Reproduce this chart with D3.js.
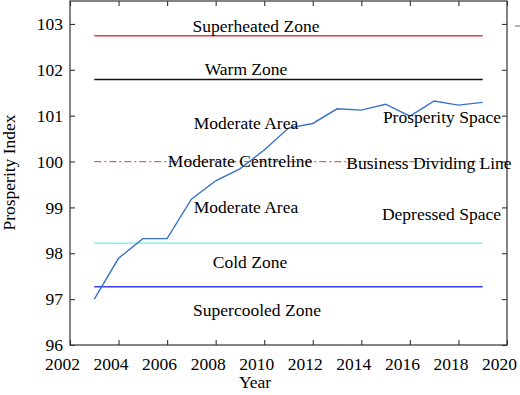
<!DOCTYPE html>
<html>
<head>
<meta charset="utf-8">
<script src="https://cdn.jsdelivr.net/npm/d3@7"></script>
<style>
  html, body { margin: 0; padding: 0; background: #fff; }
  svg { display: block; }
  text { font-family: "Liberation Serif", "Times New Roman", serif; fill: #000; }
</style>
</head>
<body>
<svg id="chart" width="520" height="395"></svg>
<script>
// ---- data ----
const years = [2003, 2004, 2005, 2006, 2007, 2008, 2009, 2010, 2011, 2012, 2013, 2014, 2015, 2016, 2017, 2018, 2019];
const index = [97.0, 97.89, 98.32, 98.32, 99.18, 99.58, 99.84, 100.25, 100.73, 100.83, 101.15, 101.12, 101.25, 100.99, 101.32, 101.23, 101.29];

const refNames = ["Superheated", "Warm", "Centreline", "Cold", "Supercooled"];
const refValues = [102.74, 101.79, 100.0, 98.22, 97.27];
const refColors = ["#e63c3c", "#111111", "#d4703c", "#7ff5f7", "#3a3cf0"];
const refDash = [null, null, "7,3,2,3", null, null];
const refStart = 2003, refEnd = 2019;

const xTicks = [2002, 2004, 2006, 2008, 2010, 2012, 2014, 2016, 2018, 2020];
const yTicks = [96, 97, 98, 99, 100, 101, 102, 103];

const labelTexts = ["Superheated Zone", "Warm Zone", "Moderate Area", "Moderate Centreline",
  "Prosperity Space", "Business Dividing Line", "Moderate Area", "Depressed Space",
  "Cold Zone", "Supercooled Zone"];
const labelX = [256, 246, 246, 240, 501, 429, 246, 501, 250, 257];
const labelY = [102.82, 101.89, 100.72, 99.88, 100.85, 99.83, 98.87, 98.73, 97.67, 96.64];
const labelAnchor = ["middle", "middle", "middle", "middle", "end", "middle", "middle", "end", "middle", "middle"];

// ---- layout ----
const svg = d3.select("#chart");
const L = 70, R = 507, T = 1, B = 345;
const x = d3.scaleLinear().domain([2002, 2020]).range([L, R]);
const y = d3.scaleLinear().domain([96, 103.5]).range([B, T]);
const fs = "17.5px";

// frame
svg.append("rect").attr("x", L).attr("y", T).attr("width", R - L).attr("height", B - T)
  .attr("fill", "none").attr("stroke", "#333").attr("stroke-width", 1.2);

// axes with inward ticks
const axB = d3.axisBottom(x).tickValues(xTicks).tickFormat(d3.format("d")).tickSize(-5).tickPadding(12.5);
const axT = d3.axisTop(x).tickValues(xTicks).tickFormat("").tickSize(-5);
const axL = d3.axisLeft(y).tickValues(yTicks).tickFormat(d3.format("d")).tickSize(-5).tickPadding(7);
const axR = d3.axisRight(y).tickValues(yTicks).tickFormat("").tickSize(-5);

function style(g) {
  g.select(".domain").remove();
  g.selectAll(".tick line").attr("stroke", "#333").attr("stroke-width", 1.1);
  g.selectAll(".tick text").style("font-family", "Liberation Serif, serif").style("font-size", fs).attr("fill", "#000");
}
svg.append("g").attr("transform", `translate(0,${B})`).call(axB).call(style)
  .selectAll(".tick text").attr("dx", -8);
svg.append("g").attr("transform", `translate(0,${T})`).call(axT).call(style);
svg.append("g").attr("transform", `translate(${L},0)`).call(axL).call(style);
svg.append("g").attr("transform", `translate(${R},0)`).call(axR).call(style);

// reference lines
refValues.forEach((v, i) => {
  const ln = svg.append("line")
    .attr("x1", x(refStart)).attr("x2", x(refEnd))
    .attr("y1", y(v)).attr("y2", y(v))
    .attr("stroke", refColors[i]).attr("stroke-width", 1.5);
  if (refDash[i]) ln.attr("stroke-dasharray", refDash[i]).attr("stroke-width", 1.2);
});

// data line
const line = d3.line().x((d, i) => x(years[i])).y(d => y(d));
svg.append("path").datum(index).attr("d", line)
  .attr("fill", "none").attr("stroke", "#3a72c8").attr("stroke-width", 1.4);

// labels
labelTexts.forEach((t, i) => {
  svg.append("text").attr("x", labelX[i]).attr("y", y(labelY[i]))
    .attr("text-anchor", labelAnchor[i]).style("font-size", fs).text(t);
});

// axis titles
svg.append("text").attr("x", 255).attr("y", 388).attr("text-anchor", "middle")
  .style("font-size", fs).text("Year");
svg.append("text").attr("transform", "translate(15,172.5) rotate(-90)")
  .attr("text-anchor", "middle").style("font-size", fs).text("Prosperity Index");

// small stray mark at right edge
svg.append("line").attr("x1", 515).attr("x2", 520).attr("y1", 26).attr("y2", 26)
  .attr("stroke", "#666").attr("stroke-width", 1);
</script>
</body>
</html>
